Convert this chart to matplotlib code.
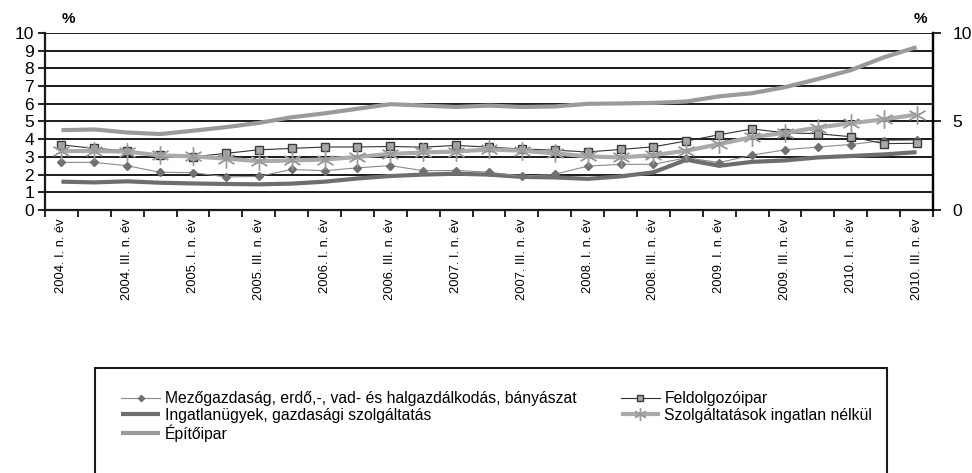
import numpy as np
import matplotlib
matplotlib.use("Agg")
import matplotlib.pyplot as plt
from matplotlib.patches import Rectangle

plt.rcParams['font.family'] = ['Liberation Sans', 'DejaVu Sans']

# negyedévek: 2004. I. - 2010. III.
quarters = [f"{y}. {q}. n. év" for y in range(2004, 2011) for q in ["I", "II", "III", "IV"]][:27]

mezogazdasag = [2.69, 2.69, 2.50, 2.13, 2.11, 1.87, 1.90, 2.29, 2.22, 2.38,
                2.51, 2.22, 2.23, 2.14, 1.90, 2.02, 2.48, 2.58, 2.58, 2.95,
                2.68, 3.10, 3.40, 3.56, 3.70, 3.92, 3.94]
feldolgozoipar = [3.68, 3.48, 3.35, 3.10, 3.00, 3.20, 3.40, 3.48, 3.56, 3.56,
                  3.59, 3.55, 3.65, 3.55, 3.45, 3.38, 3.28, 3.42, 3.57, 3.90,
                  4.25, 4.58, 4.36, 4.31, 4.14, 3.75, 3.77]
ingatlan = [1.60, 1.56, 1.62, 1.54, 1.50, 1.47, 1.45, 1.49, 1.60, 1.78,
            1.92, 2.00, 2.05, 2.00, 1.87, 1.84, 1.76, 1.90, 2.13, 2.84,
            2.50, 2.72, 2.80, 2.97, 3.05, 3.14, 3.27]
szolgaltatas = [3.33, 3.33, 3.30, 3.08, 3.03, 2.90, 2.76, 2.80, 2.85, 3.00,
                3.17, 3.25, 3.30, 3.42, 3.35, 3.20, 3.03, 2.97, 3.10, 3.35,
                3.72, 4.12, 4.36, 4.66, 4.90, 5.12, 5.39]
epitoipar = [4.51, 4.55, 4.38, 4.29, 4.48, 4.68, 4.92, 5.24, 5.46, 5.72,
             5.98, 5.90, 5.82, 5.90, 5.82, 5.85, 6.00, 6.02, 6.05, 6.13,
             6.42, 6.60, 6.94, 7.40, 7.90, 8.62, 9.20]

labels = ["Mezőgazdaság, erdő,-, vad- és halgazdálkodás, bányászat",
          "Feldolgozóipar",
          "Ingatlanügyek, gazdasági szolgáltatás",
          "Szolgáltatások ingatlan nélkül",
          "Építőipar"]

fig = plt.figure(figsize=(9.72, 4.73), dpi=100)
ax = fig.add_axes([45 / 972, 1 - 210 / 473, (933 - 45) / 972, (210 - 33) / 473])
x = np.arange(len(quarters))

ax.set_axisbelow(True)
ax.grid(axis='y', color='#1a1a1a', linewidth=1.4)

l_epit, = ax.plot(x, epitoipar, color='#9a9a9a', lw=3.0, solid_capstyle='butt')
l_ingat, = ax.plot(x, ingatlan, color='#6e6e6e', lw=3.0, solid_capstyle='butt')
l_mezo, = ax.plot(x, mezogazdasag, color='#8a8a8a', lw=0.8, marker='D', ms=4.5,
                  mfc='#707070', mec='#707070')
l_feld, = ax.plot(x, feldolgozoipar, color='#333333', lw=0.8, marker='s', ms=6,
                  mfc='#a8a8a8', mec='#3a3a3a', mew=1.0)
l_szolg, = ax.plot(x, szolgaltatas, color='#aaaaaa', lw=3.0, marker=(6, 2, 0), ms=13,
                   mec='#9a9a9a', mew=1.0, solid_capstyle='butt')

ax.set_xlim(-0.5, len(quarters) - 0.5)
ax.set_ylim(0, 10)
ax.set_yticks(range(0, 11))
ax.tick_params(axis='y', direction='out', length=5, width=1.2, labelsize=12.5, pad=3)

ax.set_xticks(np.arange(-0.5, len(quarters), 1))
ax.set_xticklabels([])
ax.tick_params(axis='x', which='major', direction='out', length=5, width=1.2)
ax.set_xticks(x[::2], minor=True)
ax.set_xticklabels(quarters[::2], minor=True, rotation=90, fontsize=9.3)
ax.tick_params(axis='x', which='minor', length=0, pad=6)

for side in ['left', 'right', 'bottom']:
    ax.spines[side].set_linewidth(1.6)
    ax.spines[side].set_color('#1a1a1a')
ax.spines['top'].set_visible(False)

ax2 = ax.twinx()
ax2.set_ylim(0, 10)
ax2.set_yticks([0, 5, 10])
ax2.tick_params(axis='y', direction='out', length=6, width=1.2, labelsize=12.5, pad=8)
for side in ['left', 'top', 'bottom']:
    ax2.spines[side].set_visible(False)
ax2.spines['right'].set_linewidth(1.6)

fig.text(68 / 972, 1 - 19 / 473, "%", fontsize=11, fontweight='bold', ha='center', va='center')
fig.text(920 / 972, 1 - 19 / 473, "%", fontsize=11, fontweight='bold', ha='center', va='center')

# legenda kerettel (alja lelóg a képről)
fig.patches.append(Rectangle((95 / 972, -0.05), (887 - 95) / 972, 0.05 + 1 - 368 / 473,
                             transform=fig.transFigure, fill=False, ec='#1a1a1a', lw=1.5))
handles = [l_mezo, l_ingat, l_epit, l_feld, l_szolg]
leg_labels = [labels[0], labels[2], labels[4], labels[1], labels[3]]
fig.legend(handles, leg_labels, loc='upper left', bbox_to_anchor=(121 / 972, 1 - 391 / 473),
           ncol=2, frameon=False, fontsize=11.3, handlelength=2.5, handletextpad=0.3,
           columnspacing=2.8, labelspacing=0.1, borderpad=0, borderaxespad=0,
           markerscale=0.7)

fig.savefig("out.png", dpi=100)
